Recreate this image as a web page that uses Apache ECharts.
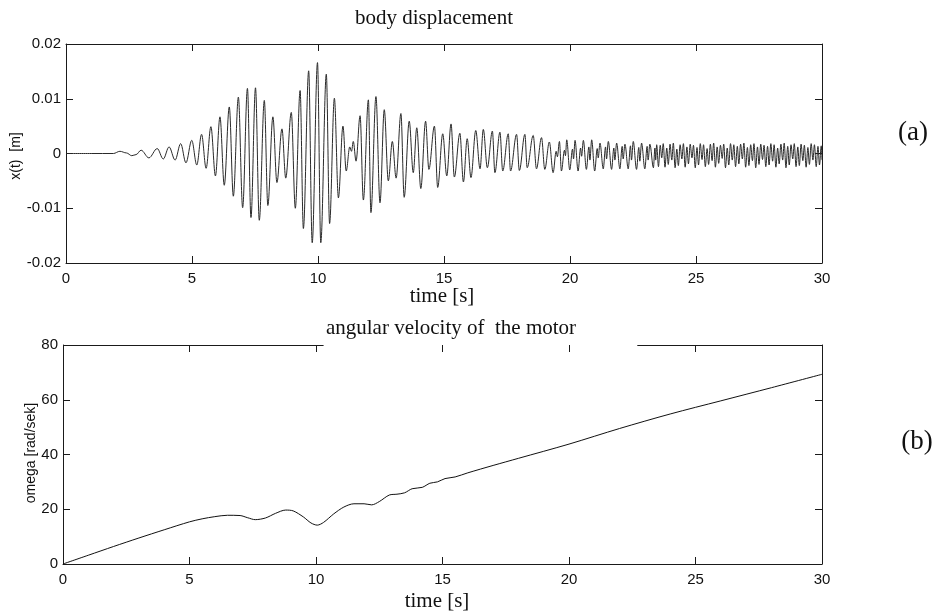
<!DOCTYPE html>
<html>
<head>
<meta charset="utf-8">
<script src="https://cdn.jsdelivr.net/npm/echarts@6/dist/echarts.min.js"></script>
<style>
html,body{margin:0;padding:0;background:#fff;}
#chart{width:940px;height:614px;}
</style>
</head>
<body>
<div id="chart"></div>
<script>
// ---------- data ----------
// time axis (s)
const timeMin = 0, timeMax = 30, timeStep = 5;
// displacement axis (m)
const dispMin = -0.02, dispMax = 0.02, dispStep = 0.01;
// omega axis (rad/sek)
const omegaMin = 0, omegaMax = 80, omegaStep = 20;

// body displacement x(t): extrema [t, x]
const dispBuildUp = [
  [0,0],[1.0,0],[1.88,0],[2.14,0.0004],[2.40,0.0001],[2.61,-0.0004],[2.78,-0.0002],
  [2.98,0.0006],[3.29,-0.0008],[3.62,0.0009],[3.86,-0.0010],[4.09,0.0012],[4.33,-0.0012],
  [4.55,0.0018],[4.76,-0.0017],[4.99,0.0024],[5.19,-0.0021],[5.38,0.0035],[5.56,-0.0027],
  [5.75,0.0049],[5.93,-0.0041],[6.11,0.0067],[6.28,-0.0058],[6.48,0.0085],[6.64,-0.0078],
  [6.84,0.0103],[7.01,-0.0099],[7.20,0.0119],[7.34,-0.0117],[7.52,0.0120],[7.67,-0.0122],
  [7.87,0.0097],[8.01,-0.0095],[8.21,0.0067],[8.37,-0.0053],[8.57,0.0045],[8.72,-0.0045],
  [8.94,0.0075],[9.10,-0.0100],[9.29,0.0115],[9.42,-0.0137],[9.63,0.0151],[9.77,-0.0163],
  [9.98,0.0166],[10.11,-0.0163],[10.33,0.0145],[10.46,-0.0128],[10.65,0.0101],[10.81,-0.0081],
  [10.99,0.0050],[11.12,-0.0032]
];
const dispSecondBeat = [
  [11.26,0.0012],[11.33,0.0004],[11.40,0.0022],[11.51,-0.0014],[11.67,0.0069],[11.80,-0.0085],
  [12.00,0.0098],[12.10,-0.0108],[12.30,0.0104],[12.46,-0.0090],[12.63,0.0080],[12.79,-0.0050],
  [12.95,0.0022],[13.10,-0.0045],[13.29,0.0073],[13.42,-0.0080],[13.62,0.0059],[13.78,-0.0035],
  [13.92,0.0047],[14.08,-0.0064],[14.27,0.0059],[14.40,-0.0029],[14.62,0.0050],[14.75,-0.0062],
  [14.95,0.0036],[15.11,-0.0041],[15.28,0.0054],[15.41,-0.0043],[15.63,0.0037],[15.77,-0.0052],
  [15.92,0.0027],[16.07,-0.0044],[16.26,0.0042],[16.43,-0.0028],[16.56,0.0044],[16.72,-0.0026],
  [16.92,0.0041]
];
const dispDecay = [
  [17.02,-0.0035],[17.22,0.0039],[17.33,-0.0032],[17.55,0.0036],[17.64,-0.0032],[17.88,0.0035],
  [17.99,-0.0031],[18.21,0.0035],[18.30,-0.0026],[18.54,0.0033],[18.67,-0.0028],[18.87,0.0029],
  [19.00,-0.0029],[19.18,0.0021],[19.33,-0.0035],[19.45,0.0004],[19.50,-0.0006],[19.58,0.0022],
  [19.66,-0.0032],[19.78,0.0006],[19.82,-0.0004],[19.87,0.0025],[19.99,-0.0030],[20.10,0.0008],
  [20.14,-0.0010],[20.20,0.0024],[20.32,-0.0032],[20.42,0.0010],[20.46,-0.0005],[20.53,0.0024],
  [20.65,-0.0029],[20.75,0.0012],[20.79,-0.0012],[20.86,0.0025],[20.98,-0.0032],[21.08,0.0009],
  [21.12,-0.0008],[21.19,0.0019],[21.32,-0.0028],[21.41,0.0012],[21.45,-0.0010],[21.52,0.0022],
  [21.65,-0.0029],[21.74,0.0010],[21.78,-0.0012],[21.85,0.0019],[21.98,-0.0028],[22.07,0.0013],
  [22.11,-0.0010],[22.18,0.0017],[22.31,-0.0028],[22.40,0.0014],[22.44,-0.0012],[22.51,0.0022],
  [22.64,-0.0029],[22.73,0.0011],[22.77,-0.0014],[22.84,0.0019],[22.97,-0.0028],[23.06,0.0013],
  [23.10,-0.0012],[23.17,0.0017],[23.31,-0.0026],[23.37,0.0010],[23.40,-0.0012],[23.44,0.0016]
];
const dispSteady = [
  [23.51,-0.0024],[23.58,0.0015],[23.64,-0.0008],[23.70,0.0018],[23.77,-0.0025],[23.84,0.0010],
  [23.90,-0.0020],[23.97,0.0017],[24.04,-0.0012],[24.10,0.0019],[24.17,-0.0026],[24.24,0.0008],
  [24.30,-0.0022],[24.37,0.0016],[24.44,-0.0010],[24.50,0.0018],[24.57,-0.0025],[24.64,0.0012],
  [24.70,-0.0019],[24.77,0.0017],[24.84,-0.0008],[24.90,0.0015],[24.97,-0.0026],[25.04,0.0011],
  [25.10,-0.0021],[25.17,0.0018],[25.24,-0.0011],[25.30,0.0016],[25.37,-0.0024],[25.44,0.0009],
  [25.50,-0.0020],[25.57,0.0017],[25.64,-0.0013],[25.70,0.0019],[25.77,-0.0025],[25.84,0.0012],
  [25.90,-0.0018],[25.97,0.0015],[26.04,-0.0009],[26.10,0.0017],[26.17,-0.0026],[26.24,0.0010],
  [26.30,-0.0021],[26.37,0.0018],[26.44,-0.0012],[26.50,0.0016],[26.57,-0.0024],[26.64,0.0013],
  [26.70,-0.0019],[26.77,0.0017],[26.84,-0.0010],[26.90,0.0019],[26.97,-0.0025],[27.04,0.0011],
  [27.10,-0.0022],[27.17,0.0016],[27.24,-0.0013],[27.30,0.0018],[27.37,-0.0026],[27.44,0.0012],
  [27.50,-0.0020],[27.57,0.0017],[27.64,-0.0011],[27.70,0.0015],[27.77,-0.0024],[27.84,0.0013],
  [27.90,-0.0021],[27.97,0.0018],[28.04,-0.0014],[28.10,0.0016],[28.17,-0.0025],[28.24,0.0010],
  [28.30,-0.0019],[28.37,0.0017],[28.44,-0.0012],[28.50,0.0019],[28.57,-0.0026],[28.64,0.0013],
  [28.70,-0.0021],[28.77,0.0016],[28.84,-0.0010],[28.90,0.0018],[28.97,-0.0024],[29.04,0.0012],
  [29.10,-0.0022],[29.17,0.0017],[29.24,-0.0013],[29.30,0.0015],[29.37,-0.0025],[29.44,0.0011],
  [29.50,-0.0020],[29.57,0.0018],[29.64,-0.0012],[29.70,0.0016],[29.77,-0.0024],[29.84,0.0013],
  [29.90,-0.0021],[29.97,0.0014],[30.00,-0.0012]
];

// angular velocity of the motor
const omegaTime  = [0, 1, 2, 3, 4, 5, 5.5, 6, 6.5, 7, 7.3, 7.6, 8, 8.4, 8.8, 9.1, 9.5, 9.8, 10.05, 10.3,
                    10.7, 11.1, 11.5, 11.9, 12.2, 12.5, 12.9, 13.2, 13.5, 13.8, 14.2, 14.5, 14.8, 15.1, 15.5,
                    16, 17, 18, 20, 22, 24, 26, 28, 30];
const omegaValue = [0, 3.2, 6.4, 9.5, 12.5, 15.4, 16.5, 17.3, 17.8, 17.7, 16.9, 16.2, 16.8, 18.5, 19.7, 19.4, 17.2, 15.0, 14.2, 15.2,
                    18.3, 20.8, 22.0, 22.0, 21.6, 22.8, 25.2, 25.5, 26.0, 27.5, 28.0, 29.5, 30.0, 31.2, 31.8,
                    33.3, 36.0, 38.6, 43.8, 49.5, 54.8, 59.6, 64.4, 69.3];

// texts
const titleTop = 'body displacement';
const titleBottom = 'angular velocity of  the motor';
const xName = 'time [s]';
const yNameTop = 'x(t)  [m]';
const yNameBottom = 'omega [rad/sek]';

// ---------- chart ----------
const dispData = dispBuildUp.concat(dispSecondBeat, dispDecay, dispSteady);
const omegaData = omegaTime.map((t, i) => [t, omegaValue[i]]);

const ink = '#1a1a1a';
const sans = '"Liberation Sans", Arial, sans-serif';
const serif = '"Liberation Serif", "Times New Roman", serif';

function xAx(grid, pos, labels, line) {
  return {
    type: 'value', gridIndex: grid, position: pos, min: timeMin, max: timeMax, interval: timeStep,
    axisLine: { show: line, onZero: false, lineStyle: { color: ink, width: 1 } },
    axisTick: { show: true, inside: true, length: 7, lineStyle: { color: ink, width: 1 } },
    axisLabel: { show: labels, color: '#111', fontSize: 15, fontFamily: sans, margin: 8 },
    splitLine: { show: false }
  };
}
function yAx(grid, pos, labels, min, max, step, fmt) {
  return {
    type: 'value', gridIndex: grid, position: pos, min: min, max: max, interval: step,
    axisLine: { show: true, onZero: false, lineStyle: { color: ink, width: 1 } },
    axisTick: { show: true, inside: true, length: 7, lineStyle: { color: ink, width: 1 } },
    axisLabel: { show: labels, color: '#111', fontSize: 15, fontFamily: sans, margin: 5, formatter: fmt },
    splitLine: { show: false }
  };
}
const dispFmt = v => (Math.abs(v) < 1e-9 ? '0' : v.toFixed(2));

const chart = echarts.init(document.getElementById('chart'), null, { renderer: 'canvas' });
chart.setOption({
  animation: false,
  backgroundColor: '#fff',
  grid: [
    { left: 66, top: 44, width: 756, height: 219 },
    { left: 63, top: 345, width: 759, height: 219 }
  ],
  xAxis: [
    xAx(0, 'bottom', true, true),
    xAx(0, 'top', false, true),
    xAx(1, 'bottom', true, true),
    xAx(1, 'top', false, false)
  ],
  yAxis: [
    yAx(0, 'left', true, dispMin, dispMax, dispStep, dispFmt),
    yAx(0, 'right', false, dispMin, dispMax, dispStep, dispFmt),
    yAx(1, 'left', true, omegaMin, omegaMax, omegaStep, null),
    yAx(1, 'right', false, omegaMin, omegaMax, omegaStep, null)
  ],
  series: [
    {
      type: 'line', xAxisIndex: 0, yAxisIndex: 0, data: dispData,
      showSymbol: false, symbol: 'none', sampling: null, smooth: 0.35, smoothMonotone: 'x',
      lineStyle: { color: '#2a2a2a', width: 1 }
    },
    {
      type: 'line', xAxisIndex: 2, yAxisIndex: 2, data: omegaData,
      showSymbol: false, symbol: 'none', smooth: 0.3,
      lineStyle: { color: '#111', width: 1 },
      markLine: {
        silent: true, symbol: ['none', 'none'], animation: false,
        label: { show: false },
        lineStyle: { color: ink, width: 1, type: 'solid' },
        data: [
          [{ coord: [0, omegaMax] }, { coord: [10.3, omegaMax] }],
          [{ coord: [22.7, omegaMax] }, { coord: [30, omegaMax] }]
        ]
      }
    }
  ],
  graphic: [
    { type: 'text', x: 434, y: 18, style: { text: titleTop, font: '21px ' + serif, fill: '#111', textAlign: 'center', textVerticalAlign: 'middle' } },
    { type: 'text', x: 442, y: 296, style: { text: xName, font: '21px ' + serif, fill: '#111', textAlign: 'center', textVerticalAlign: 'middle' } },
    { type: 'text', x: 451, y: 328, style: { text: titleBottom, font: '21px ' + serif, fill: '#111', textAlign: 'center', textVerticalAlign: 'middle' } },
    { type: 'text', x: 437, y: 601, style: { text: xName, font: '21px ' + serif, fill: '#111', textAlign: 'center', textVerticalAlign: 'middle' } },
    { type: 'text', x: 913, y: 133, style: { text: '(a)', font: '27px ' + serif, fill: '#111', textAlign: 'center', textVerticalAlign: 'middle' } },
    { type: 'text', x: 917, y: 442, style: { text: '(b)', font: '27px ' + serif, fill: '#111', textAlign: 'center', textVerticalAlign: 'middle' } },
    { type: 'text', x: 16, y: 156, rotation: Math.PI / 2, style: { text: yNameTop, font: '14px ' + sans, fill: '#111', textAlign: 'center', textVerticalAlign: 'middle' } },
    { type: 'text', x: 31, y: 453, rotation: Math.PI / 2, style: { text: yNameBottom, font: '14px ' + sans, fill: '#111', textAlign: 'center', textVerticalAlign: 'middle' } }
  ]
});
</script>
</body>
</html>
